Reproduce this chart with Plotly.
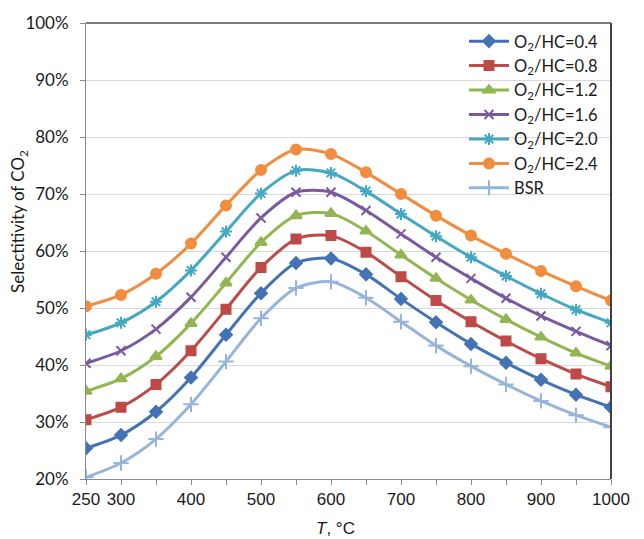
import plotly.graph_objects as go

# Temperature grid, °C
temperature = [250, 300, 350, 400, 450, 500, 550, 600, 650, 700, 750, 800, 850, 900, 950, 1000]

# CO2 selectivity (%) for each O2/HC ratio and for BSR
sel_04 = [25.4, 27.7, 31.8, 37.8, 45.3, 52.6, 57.9, 58.7, 55.9, 51.6, 47.5, 43.7, 40.4, 37.4, 34.8, 32.6]
sel_08 = [30.4, 32.6, 36.6, 42.5, 49.8, 57.1, 62.1, 62.7, 59.8, 55.5, 51.3, 47.6, 44.2, 41.1, 38.4, 36.2]
sel_12 = [35.4, 37.6, 41.5, 47.3, 54.4, 61.5, 66.2, 66.6, 63.5, 59.3, 55.2, 51.4, 48.0, 44.9, 42.1, 39.8]
sel_16 = [40.3, 42.5, 46.3, 51.9, 58.9, 65.8, 70.3, 70.3, 67.1, 63.0, 58.9, 55.2, 51.7, 48.6, 45.9, 43.4]
sel_20 = [45.3, 47.4, 51.1, 56.6, 63.4, 70.1, 74.1, 73.7, 70.5, 66.5, 62.6, 58.9, 55.6, 52.5, 49.7, 47.4]
sel_24 = [50.3, 52.3, 56.0, 61.3, 68.0, 74.2, 77.8, 77.0, 73.8, 70.0, 66.2, 62.7, 59.5, 56.5, 53.8, 51.3]
sel_bsr = [20.3, 22.8, 27.0, 33.1, 40.6, 48.2, 53.5, 54.6, 51.8, 47.6, 43.4, 39.8, 36.6, 33.7, 31.2, 29.1]

series_names = ["O<sub>2</sub>/HC=0.4", "O<sub>2</sub>/HC=0.8", "O<sub>2</sub>/HC=1.2",
                "O<sub>2</sub>/HC=1.6", "O<sub>2</sub>/HC=2.0", "O<sub>2</sub>/HC=2.4", "BSR"]
series_values = [sel_04, sel_08, sel_12, sel_16, sel_20, sel_24, sel_bsr]

x_tick_vals = [250, 300, 400, 500, 600, 700, 800, 900, 1000]
x_tick_text = ["250", "300", "400", "500", "600", "700", "800", "900", "1000"]
x_minor_vals = [350, 450, 550, 650, 750, 850, 950]
y_tick_vals = [20, 30, 40, 50, 60, 70, 80, 90, 100]
y_tick_text = ["20%", "30%", "40%", "50%", "60%", "70%", "80%", "90%", "100%"]

styles = [
    dict(color="#4473B5", symbol="diamond", size=9),
    dict(color="#BC4A47", symbol="square", size=9),
    dict(color="#92B651", symbol="triangle-up", size=10),
    dict(color="#7A5A9E", symbol="x-thin-open", size=9),
    dict(color="#44A8C2", symbol="asterisk-open", size=10),
    dict(color="#F18D3E", symbol="circle", size=10),
    dict(color="#97B5DA", symbol="cross-thin-open", size=11),
]

W, H = 644, 539
ML, MR, MT, MB = 86, 33, 16, 60

fig = go.Figure()
for name, vals, st in zip(series_names, series_values, styles):
    fig.add_trace(go.Scatter(
        x=temperature, y=vals, name=name,
        mode="lines+markers",
        line=dict(color=st["color"], width=3, shape="spline", smoothing=0.8),
        marker=dict(symbol=st["symbol"], size=st["size"], color=st["color"],
                    line=dict(color=st["color"], width=2)),
    ))

fig.update_layout(
    width=W, height=H,
    margin=dict(l=ML, r=MR, t=MT, b=MB),
    paper_bgcolor="white", plot_bgcolor="white",
    font=dict(family="Lato, Liberation Sans, sans-serif", size=16, color="#1a1a1a"),
    showlegend=True,
    legend=dict(x=0.72, y=0.998, xanchor="left", yanchor="top",
                bgcolor="rgba(255,255,255,0)", borderwidth=0,
                font=dict(family="Lato, sans-serif", size=16.5),
                tracegroupgap=0, itemwidth=40),
    xaxis=dict(
        range=[250, 1000], tickmode="array", tickvals=x_tick_vals, ticktext=x_tick_text,
        showgrid=False, zeroline=False,
        showline=True, linecolor="#8a8a8a", linewidth=1,
        ticks="outside", ticklen=5, tickcolor="#8a8a8a",
        minor=dict(tickmode="array", tickvals=x_minor_vals, ticks="outside",
                   ticklen=5, tickcolor="#8a8a8a", showgrid=False),
        tickfont=dict(family="Liberation Sans, Arial, sans-serif", size=17),
    ),
    yaxis=dict(
        range=[20, 100], tickmode="array", tickvals=y_tick_vals, ticktext=y_tick_text,
        showgrid=True, gridcolor="#d9d9d9", gridwidth=1, zeroline=False,
        showline=True, linecolor="#8a8a8a", linewidth=1,
        ticks="outside", ticklen=5, tickcolor="#8a8a8a",
        ticklabelstandoff=8,
        tickfont=dict(family="Lato, sans-serif", size=17),
    ),
)

# Axis titles
fig.add_annotation(text="<i>T</i>, °C", xref="paper", yref="paper",
                   x=(335 - ML) / (W - ML - MR), y=-(529 - (H - MB)) / (H - MT - MB),
                   showarrow=False, xanchor="center", yanchor="middle",
                   font=dict(family="Liberation Sans, Arial, sans-serif", size=17))
fig.add_annotation(text="Selectitivity of CO<sub>2</sub>", xref="paper", yref="paper",
                   x=-(ML - 19) / (W - ML - MR), y=((H - MB) - 218) / (H - MT - MB),
                   showarrow=False, textangle=-90, xanchor="center", yanchor="middle",
                   font=dict(family="Lato, sans-serif", size=17))

# Dark top and right borders of the plot area
fig.add_shape(type="line", xref="paper", yref="paper", x0=1, x1=1, y0=0, y1=1,
              line=dict(color="#404040", width=2))
fig.add_shape(type="line", xref="paper", yref="paper", x0=0, x1=1, y0=1, y1=1,
              line=dict(color="#505050", width=1.5))

fig.write_html("out.html")
